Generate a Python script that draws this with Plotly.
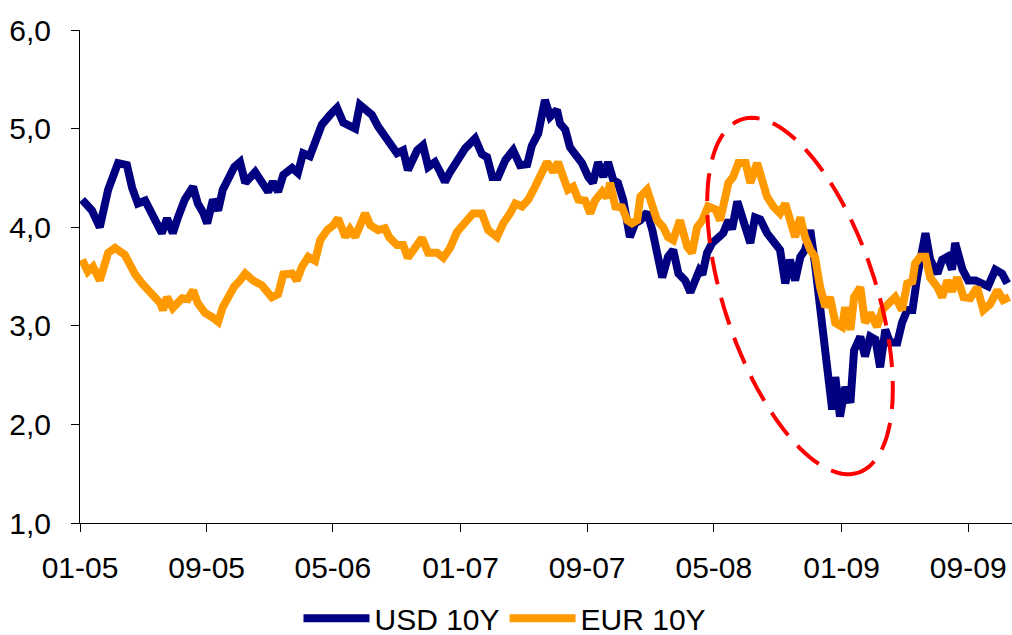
import numpy as np
import plotly.graph_objects as go

# USD 10Y yield
usd_dates = [
    "2005-01-05", "2005-01-24", "2005-02-08", "2005-02-24", "2005-03-15", "2005-04-01",
    "2005-04-11", "2005-04-22", "2005-05-06", "2005-05-19", "2005-05-31", "2005-06-07",
    "2005-06-17", "2005-06-28", "2005-07-08", "2005-07-21", "2005-08-06", "2005-08-15",
    "2005-08-25", "2005-09-02", "2005-09-13", "2005-09-23", "2005-10-02", "2005-10-12",
    "2005-10-24", "2005-11-04", "2005-11-14", "2005-12-03", "2005-12-16", "2005-12-28",
    "2006-01-06", "2006-01-16", "2006-01-26", "2006-02-12", "2006-02-23", "2006-03-05",
    "2006-03-18", "2006-03-28", "2006-04-10", "2006-04-26", "2006-05-09", "2006-05-21",
    "2006-06-03", "2006-06-13", "2006-06-22", "2006-07-02", "2006-07-15", "2006-07-27",
    "2006-08-09", "2006-08-17", "2006-08-23", "2006-09-01", "2006-09-13", "2006-09-22",
    "2006-10-10", "2006-10-21", "2006-10-31", "2006-11-13", "2006-11-23", "2006-12-02",
    "2006-12-12", "2006-12-25", "2007-01-10", "2007-01-29", "2007-02-11", "2007-02-21",
    "2007-03-03", "2007-03-14", "2007-03-28", "2007-04-12", "2007-04-25", "2007-05-09",
    "2007-05-18", "2007-05-30", "2007-06-07", "2007-06-12", "2007-06-22", "2007-07-05",
    "2007-07-11", "2007-07-21", "2007-07-30", "2007-08-09", "2007-08-22", "2007-09-03",
    "2007-09-12", "2007-09-22", "2007-10-02", "2007-10-11", "2007-10-21", "2007-10-30",
    "2007-11-09", "2007-11-22", "2007-12-02", "2007-12-12", "2007-12-25", "2008-01-04",
    "2008-01-13", "2008-01-23", "2008-02-03", "2008-02-13", "2008-02-23", "2008-03-07",
    "2008-03-17", "2008-03-26", "2008-04-03", "2008-04-09", "2008-04-18", "2008-04-28",
    "2008-05-09", "2008-05-19", "2008-05-29", "2008-06-05", "2008-06-15", "2008-06-24",
    "2008-07-04", "2008-07-10", "2008-07-19", "2008-07-29", "2008-08-11", "2008-08-23",
    "2008-09-05", "2008-09-15", "2008-09-24", "2008-10-04", "2008-10-14", "2008-10-23",
    "2008-11-02", "2008-11-11", "2008-11-21", "2008-12-01", "2008-12-06", "2008-12-14",
    "2008-12-20", "2008-12-29", "2009-01-08", "2009-01-18", "2009-01-25", "2009-02-06",
    "2009-02-15", "2009-02-25", "2009-03-07", "2009-03-16", "2009-03-26", "2009-04-04",
    "2009-04-18", "2009-04-27", "2009-05-07", "2009-05-17", "2009-05-26", "2009-06-05",
    "2009-06-11", "2009-06-20", "2009-07-04", "2009-07-13", "2009-07-23", "2009-08-01",
    "2009-08-07", "2009-08-21", "2009-09-01", "2009-09-15", "2009-09-28", "2009-10-09",
    "2009-10-23", "2009-11-05", "2009-11-15",
]
usd_values = [
    4.28, 4.17, 4.00, 4.38, 4.65, 4.63,
    4.40, 4.24, 4.27, 4.14, 4.04, 3.94,
    4.09, 3.94, 4.10, 4.28, 4.41, 4.24,
    4.15, 4.04, 4.28, 4.17, 4.38, 4.50,
    4.61, 4.66, 4.45, 4.56, 4.45, 4.36,
    4.46, 4.36, 4.53, 4.60, 4.55, 4.75,
    4.72, 4.88, 5.04, 5.14, 5.21, 5.06,
    5.02, 5.00, 5.24, 5.19, 5.14, 5.02,
    4.91, 4.87, 4.81, 4.75, 4.78, 4.58,
    4.78, 4.83, 4.61, 4.66, 4.56, 4.46,
    4.56, 4.68, 4.80, 4.90, 4.74, 4.71,
    4.51, 4.51, 4.68, 4.78, 4.63, 4.64,
    4.83, 4.95, 5.15, 5.29, 5.12, 5.19,
    5.05, 4.99, 4.81, 4.73, 4.65, 4.51,
    4.45, 4.66, 4.51, 4.66, 4.48, 4.45,
    4.28, 3.90, 4.04, 4.07, 4.15, 3.97,
    3.70, 3.49, 3.70, 3.77, 3.53, 3.46,
    3.34, 3.46, 3.56, 3.52, 3.74, 3.84,
    3.89, 3.94, 4.07, 3.98, 4.26, 4.10,
    3.97, 3.84, 4.10, 4.08, 3.94, 3.87,
    3.77, 3.43, 3.67, 3.46, 3.70, 3.77,
    3.97, 3.63, 3.16, 2.83, 2.55, 2.15,
    2.48, 2.08, 2.38, 2.22, 2.75, 2.89,
    2.69, 2.89, 2.86, 2.58, 2.96, 2.83,
    2.83, 3.03, 3.16, 3.16, 3.49, 3.84,
    3.94, 3.67, 3.53, 3.67, 3.70, 3.57,
    3.84, 3.57, 3.46, 3.46, 3.43, 3.40,
    3.57, 3.53, 3.43,
]

# EUR 10Y yield
eur_dates = [
    "2005-01-05", "2005-01-16", "2005-01-26", "2005-02-08", "2005-02-24", "2005-03-09",
    "2005-03-28", "2005-04-07", "2005-04-17", "2005-04-30", "2005-05-19", "2005-06-04",
    "2005-06-09", "2005-06-17", "2005-06-28", "2005-07-16", "2005-07-27", "2005-08-06",
    "2005-08-15", "2005-08-29", "2005-09-11", "2005-09-23", "2005-10-02", "2005-10-12",
    "2005-10-24", "2005-11-04", "2005-11-14", "2005-11-29", "2005-12-16", "2006-01-04",
    "2006-01-16", "2006-01-26", "2006-02-12", "2006-02-21", "2006-03-03", "2006-03-15",
    "2006-03-28", "2006-04-07", "2006-04-20", "2006-05-02", "2006-05-11", "2006-05-25",
    "2006-06-03", "2006-06-13", "2006-06-26", "2006-07-02", "2006-07-12", "2006-07-27",
    "2006-08-09", "2006-08-17", "2006-09-01", "2006-09-13", "2006-09-22", "2006-10-06",
    "2006-10-19", "2006-10-31", "2006-11-17", "2006-11-29", "2006-12-12", "2006-12-25",
    "2007-01-10", "2007-01-25", "2007-02-11", "2007-02-23", "2007-03-12", "2007-03-24",
    "2007-04-06", "2007-04-16", "2007-04-29", "2007-05-11", "2007-05-24", "2007-06-03",
    "2007-06-16", "2007-06-28", "2007-07-07", "2007-07-17", "2007-07-26", "2007-08-05",
    "2007-08-15", "2007-08-28", "2007-09-07", "2007-09-16", "2007-09-30", "2007-10-09",
    "2007-10-15", "2007-10-25", "2007-11-07", "2007-11-17", "2007-11-26", "2007-12-06",
    "2007-12-12", "2007-12-25", "2008-01-04", "2008-01-13", "2008-01-25", "2008-02-03",
    "2008-02-13", "2008-02-26", "2008-03-11", "2008-03-20", "2008-03-30", "2008-04-09",
    "2008-04-20", "2008-05-04", "2008-05-13", "2008-05-23", "2008-05-29", "2008-06-07",
    "2008-06-17", "2008-07-01", "2008-07-10", "2008-07-23", "2008-08-02", "2008-08-11",
    "2008-08-23", "2008-09-05", "2008-09-15", "2008-09-24", "2008-10-04", "2008-10-14",
    "2008-10-23", "2008-11-02", "2008-11-11", "2008-11-21", "2008-12-01", "2008-12-10",
    "2008-12-20", "2009-01-02", "2009-01-08", "2009-01-18", "2009-01-25", "2009-02-06",
    "2009-02-15", "2009-02-25", "2009-03-10", "2009-03-20", "2009-04-01", "2009-04-14",
    "2009-04-27", "2009-05-07", "2009-05-17", "2009-05-22", "2009-06-01", "2009-06-11",
    "2009-06-20", "2009-07-04", "2009-07-13", "2009-07-23", "2009-08-01", "2009-08-11",
    "2009-08-23", "2009-09-05", "2009-09-18", "2009-09-30", "2009-10-13", "2009-10-27",
    "2009-11-07", "2009-11-19",
]
eur_values = [
    3.67, 3.55, 3.60, 3.46, 3.74, 3.79,
    3.72, 3.60, 3.52, 3.43, 3.33, 3.23,
    3.16, 3.29, 3.18, 3.28, 3.27, 3.36,
    3.23, 3.13, 3.09, 3.04, 3.19, 3.29,
    3.40, 3.46, 3.53, 3.46, 3.41, 3.29,
    3.32, 3.52, 3.53, 3.46, 3.60, 3.70,
    3.66, 3.87, 3.97, 4.02, 4.09, 3.90,
    3.98, 3.90, 4.10, 4.14, 4.02, 3.97,
    3.99, 3.90, 3.82, 3.82, 3.69, 3.79,
    3.89, 3.74, 3.74, 3.69, 3.79, 3.95,
    4.05, 4.14, 4.14, 3.97, 3.90, 4.04,
    4.14, 4.24, 4.21, 4.28, 4.41, 4.51,
    4.66, 4.56, 4.66, 4.51, 4.38, 4.41,
    4.28, 4.27, 4.14, 4.27, 4.36, 4.30,
    4.45, 4.21, 4.20, 4.07, 4.04, 4.07,
    4.31, 4.38, 4.20, 4.07, 4.00, 3.90,
    3.87, 4.07, 3.80, 3.74, 4.00, 4.07,
    4.21, 4.18, 4.07, 4.31, 4.45, 4.51,
    4.65, 4.65, 4.45, 4.65, 4.48, 4.31,
    4.21, 4.14, 4.24, 4.04, 3.90, 4.10,
    3.90, 3.77, 3.70, 3.39, 3.19, 3.29,
    3.03, 2.99, 3.19, 2.96, 3.29, 3.39,
    3.03, 3.13, 2.99, 3.16, 3.23, 3.29,
    3.16, 3.43, 3.45, 3.63, 3.70, 3.70,
    3.49, 3.39, 3.29, 3.46, 3.35, 3.49,
    3.29, 3.28, 3.39, 3.16, 3.22, 3.36,
    3.26, 3.29,
]

x_range = ["2005-01-01", "2009-11-24"]

# page geometry (pixels) used to place the hand-drawn ellipse
W, H = 1012, 635
M_L, M_R, M_T, M_B = 80, 0, 30, 112
plot_w = W - M_L - M_R
plot_h = H - M_T - M_B
FONT_SIZE = 30

fig = go.Figure()

fig.add_trace(go.Scatter(
    x=usd_dates, y=usd_values,
    mode='lines', name='USD 10Y',
    line=dict(color='#000080', width=8)
))
fig.add_trace(go.Scatter(
    x=eur_dates, y=eur_values,
    mode='lines', name='EUR 10Y',
    line=dict(color='#FF9900', width=8)
))

# red dashed ellipse around the 2008 crisis period
cx, cy = 800, 296
a, b = 186, 76
theta = np.radians(71.7)
t = np.linspace(0, 2 * np.pi, 120)
ex = cx + a * np.cos(t) * np.cos(theta) - b * np.sin(t) * np.sin(theta)
ey = cy + a * np.cos(t) * np.sin(theta) + b * np.sin(t) * np.cos(theta)
px = (ex - M_L) / plot_w
py = (H - M_B - ey) / plot_h
path = "M " + " L ".join(f"{u:.4f},{v:.4f}" for u, v in zip(px, py)) + " Z"
fig.add_shape(
    type="path", path=path, xref="paper", yref="paper",
    line=dict(color="#FF0000", width=4, dash="28px,14px"),
    layer="above"
)

fig.update_layout(
    width=W, height=H,
    margin=dict(l=M_L, r=M_R, t=M_T, b=M_B, autoexpand=False),
    plot_bgcolor='white',
    paper_bgcolor='white',
    separators=",.",
    font=dict(family="Liberation Sans, Arial, sans-serif", size=FONT_SIZE, color="black"),
    showlegend=True,
    legend=dict(
        orientation='h',
        x=0.456, xanchor='center',
        y=-0.193, yanchor='middle',
        font=dict(size=FONT_SIZE),
        itemwidth=66,
        tracegroupgap=0,
    ),
)

fig.update_xaxes(
    type='date',
    range=x_range,
    tick0="2005-01-01", dtick="M8",
    tickformat="%m-%y",
    showgrid=False, zeroline=False,
    showline=True, linecolor='black', linewidth=1,
    ticks='outside', ticklen=8, tickcolor='black',
    tickfont=dict(size=FONT_SIZE),
    ticklabelstandoff=10,
    automargin=False,
)
fig.update_yaxes(
    range=[1, 6], dtick=1, tickformat=".1f",
    showgrid=False, zeroline=False,
    showline=True, linecolor='black', linewidth=1,
    ticks='outside', ticklen=8, tickcolor='black',
    tickfont=dict(size=FONT_SIZE),
    ticklabelstandoff=14,
    automargin=False,
)

# drop the default page margin so the figure sits at the window's corner
fig.write_html(
    "out.html",
    config={'displayModeBar': False},
    post_script="document.body.style.margin='0';document.body.style.overflow='hidden';"
)
